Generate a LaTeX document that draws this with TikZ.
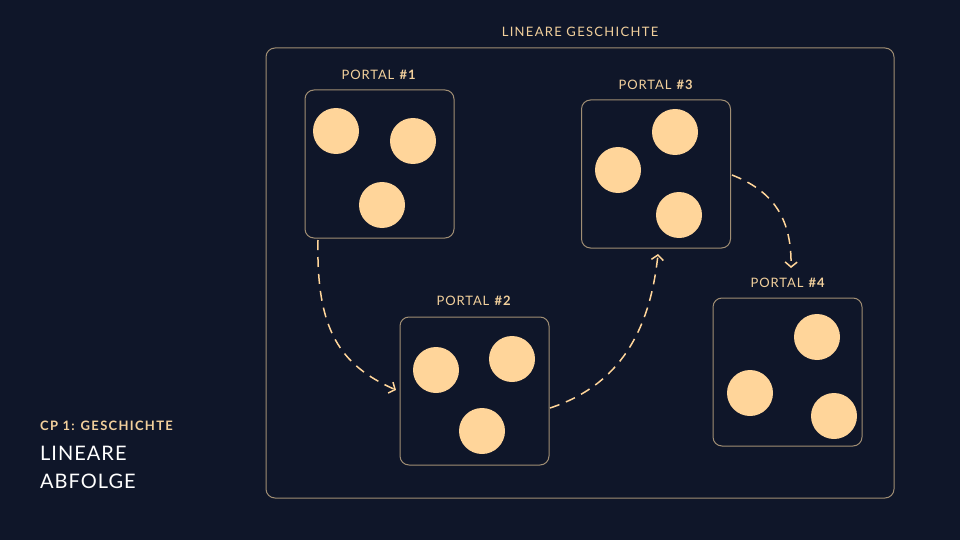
\documentclass[tikz,border=0pt]{standalone}
\usepackage{fontspec}
\setmainfont{Lato}
\newfontfamily\titlefont[LetterSpace=10]{Lato}
\newfontfamily\labelfont[LetterSpace=7]{Lato}
\newfontfamily\bigfont[LetterSpace=5]{Lato}
\usetikzlibrary{arrows.meta}
\definecolor{bg}{HTML}{0F1629}
\definecolor{peach}{HTML}{FFD59A}
\definecolor{gold}{HTML}{F2D09C}
\definecolor{frame}{HTML}{A08E74}
\begin{document}
\begin{tikzpicture}[x=1pt,y=-1pt,
  portalbox/.style={draw=frame,line width=1pt,rounded corners=9pt,minimum width=149pt,minimum height=148pt,inner sep=0pt},
  dot/.style={circle,fill=peach,minimum size=46pt,inner sep=0pt},
  plabel/.style={text=gold,font=\labelfont\fontsize{13}{15}\selectfont},
  flow/.style={draw=peach,line width=1.5pt,dash pattern=on 10pt off 7pt,-{Straight Barb[length=5pt,width=12pt,line width=1.5pt]}}
]
\fill[bg] (0,0) rectangle (960,540);
\useasboundingbox (0,0) rectangle (960,540);
% outer frame
\node[draw=frame,line width=1pt,rounded corners=9pt,minimum width=628pt,minimum height=450pt,inner sep=0pt] (outer) at (580,273) {};
\node[text=gold,font=\titlefont\fontsize{13}{15}\selectfont] (title) at (580,32) {LINEARE GESCHICHTE};
% portals
\node[portalbox] (p1) at (379.5,164) {};
\node[plabel] (l1) at (379,75) {PORTAL \textbf{\#1}};
\node[dot] (c11) at (336,131) {};
\node[dot] (c12) at (413,141) {};
\node[dot] (c13) at (382,205) {};

\node[portalbox] (p2) at (474.5,391) {};
\node[plabel] (l2) at (474,301) {PORTAL \textbf{\#2}};
\node[dot] (c21) at (436,370) {};
\node[dot] (c22) at (512,359) {};
\node[dot] (c23) at (482,431) {};

\node[portalbox] (p3) at (656,174) {};
\node[plabel] (l3) at (656,85) {PORTAL \textbf{\#3}};
\node[dot] (c31) at (675,132) {};
\node[dot] (c32) at (618,170) {};
\node[dot] (c33) at (679,215) {};

\node[portalbox] (p4) at (787.5,372) {};
\node[plabel] (l4) at (788,283) {PORTAL \textbf{\#4}};
\node[dot] (c41) at (817,337) {};
\node[dot] (c42) at (750,393) {};
\node[dot] (c43) at (834,416) {};

% arrows
\coordinate (a1s) at (318,240);
\coordinate (a1e) at (396,390);
\coordinate (a2s) at (550,408);
\coordinate (a2e) at (658,254);
\coordinate (a3s) at (732,175);
\coordinate (a3e) at (791,268);
\draw[flow] (a1s) .. controls (316,330) and (340,365) .. (a1e);
\draw[flow] (a2s) .. controls (620,385) and (650,330) .. (a2e);
\draw[flow] (a3s) .. controls (770,190) and (792,215) .. (a3e);

% left text
\node[anchor=west,inner sep=0pt,text=gold,font=\titlefont\fontsize{13}{15}\selectfont\bfseries] (cp) at (40,426) {CP 1: GESCHICHTE};
\node[anchor=west,inner sep=0pt,text=white,font=\bigfont\fontsize{20}{24}\selectfont] (t1) at (40,453) {LINEARE};
\node[anchor=west,inner sep=0pt,text=white,font=\bigfont\fontsize{20}{24}\selectfont] (t2) at (40,481) {ABFOLGE};
\end{tikzpicture}
\end{document}
